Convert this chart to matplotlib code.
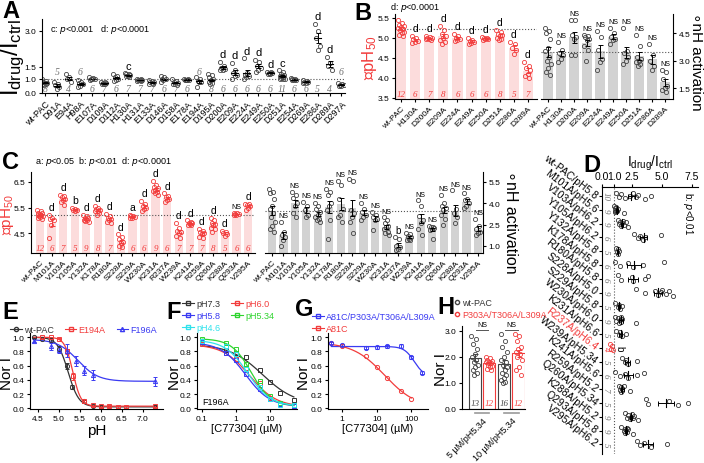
import numpy as np
import matplotlib
matplotlib.use("Agg")
import matplotlib.pyplot as plt
from matplotlib.lines import Line2D

plt.rcParams['font.family'] = ['Liberation Sans', 'DejaVu Sans']
plt.rcParams['mathtext.default'] = 'regular'
plt.rcParams['axes.linewidth'] = 0.8
plt.rcParams['xtick.major.width'] = 0.8
plt.rcParams['ytick.major.width'] = 0.8
plt.rcParams['xtick.major.size'] = 2.5
plt.rcParams['ytick.major.size'] = 2.5
plt.rcParams['xtick.major.pad'] = 1.5
plt.rcParams['ytick.major.pad'] = 1.5

RED = '#f23c3c'
PINK = '#fcdcdc'
GRAYBAR = '#d2d2d2'
BLUE = '#3a3af2'
GREEN = '#2ed42e'
CYAN = '#2fe2ec'
NGRAY = '#707070'
TICK = 6

# ---------------- data ----------------
# A: Idrug/Ictrl per mutant
A_names = ['wt-PAC', 'D91A', 'E94A', 'H98A', 'E107A', 'D109A', 'D112A', 'H130A', 'H131A',
           'E133A', 'D146A', 'D158A', 'E178A', 'E194A', 'D195A', 'D200A', 'E209A', 'E224A',
           'E249A', 'E250A', 'D251A', 'E254A', 'D269A', 'E286A', 'D289A', 'D297A']
A_vals = [
    [0.95, 0.85, 0.78, 0.72, 0.68, 0.65, 0.6, 0.55],
    [0.75, 0.6, 0.55, 0.4, 0.3],
    [1.2, 1.05, 0.95, 0.8],
    [0.9, 0.75, 0.7, 0.6, 0.5, 0.45],
    [1.05, 1.02, 1.0, 0.98, 0.95, 0.93],
    [0.8, 0.75, 0.72, 0.68, 0.65, 0.62, 0.6],
    [1.2, 1.1, 1.05, 1.0, 0.9, 0.85],
    [1.22, 1.2, 1.18, 1.15, 1.12, 1.1, 1.05],
    [1.0, 0.95, 0.92, 0.9, 0.88, 0.85, 0.83],
    [0.9, 0.85, 0.8, 0.75, 0.7, 0.65, 0.6],
    [1.1, 1.05, 1.0, 0.95, 0.88, 0.75],
    [0.95, 0.85, 0.78, 0.72, 0.65, 0.6, 0.55],
    [0.98, 0.96, 0.94, 0.92, 0.9, 0.88],
    [1.05, 0.95, 0.85, 0.8, 0.75, 0.45],
    [1.2, 1.15, 1.05, 0.95, 0.88, 0.8, 0.72, 0.65],
    [1.7, 1.55, 1.45, 1.42, 1.38, 1.35],
    [1.65, 1.35, 1.25, 1.15, 1.1, 1.0],
    [1.85, 1.25, 1.15, 1.1, 1.05, 1.0],
    [1.8, 1.7, 1.55, 1.45, 1.35, 1.3],
    [1.3, 1.28, 1.25, 1.23, 1.2, 1.2],
    [1.35, 1.28, 1.2, 1.15, 1.12, 1.1, 1.05, 1.02, 1.0, 0.98, 0.95],
    [1.02, 0.98, 0.95, 0.92, 0.9, 0.88],
    [0.88, 0.85, 0.8, 0.75, 0.72, 0.7],
    [3.3, 3.0, 2.7, 2.35, 2.2],
    [1.9, 1.65, 1.55, 1.35],
    [0.68, 0.62, 0.58, 0.55, 0.52, 0.5],
]
A_sig = ['', '', '', '', '', '', '', 'c', '', '', '', '', '', '', '', 'd', 'd', 'd',
         'd', 'd', 'c', '', '', 'd', 'd', '']
A_n_top = ['D91A', 'H98A', 'E194A', 'D297A']

# B: pH50 and nH of activation
B_names = ['wt-PAC', 'H130A', 'D200A', 'E209A', 'E224A', 'E249A', 'E250A', 'D251A', 'E286A', 'D289A']
B_ph50 = [
    [5.45, 5.38, 5.32, 5.3, 5.27, 5.25, 5.22, 5.2, 5.15, 5.12, 5.08, 5.05],
    [5.05, 5.0, 4.97, 4.93, 4.9, 4.88],
    [5.05, 5.02, 5.0, 5.0, 4.98, 4.97, 4.95],
    [5.3, 5.2, 5.1, 5.05, 5.0, 4.95, 4.9, 4.85],
    [5.1, 5.05, 5.0, 4.98, 4.95, 4.92],
    [5.0, 4.95, 4.92, 4.9, 4.88, 4.85],
    [5.03, 5.0, 5.0, 4.98, 4.97, 4.95],
    [5.2, 5.15, 5.1, 5.08, 5.05, 5.0, 4.98, 4.95],
    [4.9, 4.85, 4.75, 4.7, 4.6],
    [4.4, 4.3, 4.25, 4.2, 4.1, 4.05, 4.0],
]
B_nh = [
    [4.8, 4.6, 4.5, 4.2, 3.7, 3.5, 3.2, 3.0, 2.8, 2.6, 2.4, 2.2],
    [4.0, 3.6, 3.4, 3.3, 3.1, 2.9],
    [5.2, 5.2, 4.4, 4.3, 4.2, 3.3, 3.3],
    [4.4, 4.35, 4.3, 4.2, 4.1, 3.8, 3.6, 3.0],
    [4.6, 4.3, 3.6, 3.1, 2.9, 2.5],
    [4.8, 4.5, 4.3, 4.2, 4.1, 3.9],
    [4.8, 3.5, 3.4, 3.2, 3.0, 2.8],
    [4.4, 3.8, 3.2, 3.1, 3.0, 2.9, 2.8, 2.7],
    [3.9, 3.3, 3.0, 2.7, 2.5],
    [2.5, 2.4, 2.0, 1.6, 1.5, 1.4, 1.3],
]
B_ph_sig = [''] + ['d'] * 9
B_nh_sig = [''] + ['NS'] * 9

# C: pH50 and nH of activation
C_names = ['wt-PAC', 'M101A', 'V103A', 'Y105A', 'Y132A', 'K178A', 'R180A', 'S228A', 'S229A',
           'W230A', 'K231A', 'R237A', 'W239A', 'K241A', 'R259A', 'Q260A', 'K288A', 'Q293A', 'V295A']
C_ph50 = [
    [5.4, 5.35, 5.3, 5.28, 5.25, 5.22, 5.2, 5.18, 5.15, 5.12, 5.1, 5.05],
    [5.2, 5.1, 5.05, 5.0, 4.8, 4.3],
    [6.0, 5.95, 5.9, 5.85, 5.8, 5.7, 5.6],
    [5.5, 5.45, 5.42, 5.4, 5.35],
    [5.2, 5.15, 5.1, 5.08, 5.05, 5.02, 5.0, 4.97, 4.95],
    [5.55, 5.5, 5.45, 5.4, 5.38, 5.35, 5.3, 5.2],
    [5.25, 5.15, 5.1, 5.05, 5.0, 4.95, 4.9],
    [4.45, 4.35, 4.25, 4.15, 4.1, 4.0, 3.95],
    [5.2, 5.18, 5.15, 5.12, 5.1, 5.08],
    [5.75, 5.65, 5.55, 5.5, 5.45, 5.35],
    [6.55, 6.4, 6.3, 6.25, 6.2, 6.15, 6.1, 6.05, 6.0],
    [6.05, 5.95, 5.9, 5.85, 5.8, 5.7],
    [4.9, 4.7, 4.6, 4.55, 4.5, 4.4, 4.3],
    [5.0, 4.95, 4.9, 4.88, 4.85, 4.82, 4.8],
    [4.65, 4.6, 4.55, 4.5, 4.45, 4.35, 4.3],
    [5.1, 5.0, 4.9, 4.85, 4.8, 4.7, 4.65, 4.55],
    [4.6, 4.55, 4.5, 4.45, 4.4],
    [5.3, 5.28, 5.25, 5.25, 5.22, 5.2],
    [5.65, 5.62, 5.58, 5.55, 5.5, 5.4],
]
C_nh = [
    [5.0, 4.8, 4.7, 4.3, 3.8, 3.6, 3.3, 3.0, 2.7, 2.4, 2.2, 2.0],
    [2.7, 2.0, 1.8, 1.6, 1.4, 1.0],
    [4.8, 4.6, 4.4, 4.0, 3.8, 3.3, 3.0],
    [4.1, 3.8, 3.5, 3.2, 3.0],
    [4.0, 3.8, 3.6, 3.4, 3.2, 3.0, 2.9, 2.8, 2.7],
    [5.0, 4.8, 4.6, 4.0, 3.8, 3.5, 2.8, 1.5],
    [5.6, 5.3, 4.3, 3.6, 3.2, 3.0, 2.7],
    [5.7, 5.6, 3.5, 3.3, 3.0, 2.7, 1.9],
    [4.0, 3.6, 3.4, 3.2, 3.0, 2.8],
    [3.4, 3.2, 3.0, 2.9, 2.8, 2.1],
    [3.0, 2.8, 2.6, 2.4, 2.3, 2.2, 2.0, 1.9, 1.8],
    [1.6, 1.5, 1.0, 0.9, 0.8, 0.7],
    [1.9, 1.85, 1.7, 1.6, 1.5, 1.45, 1.4],
    [4.2, 3.8, 3.1, 2.8, 2.6, 2.2, 1.8],
    [2.4, 2.35, 2.3, 2.25, 2.2, 2.1, 1.5],
    [4.6, 4.0, 3.8, 3.7, 3.5, 3.2, 2.9, 2.5],
    [4.9, 3.6, 3.3, 3.0, 2.6],
    [4.7, 4.3, 4.2, 4.0, 3.8, 3.7],
    [2.9, 2.4, 2.2, 2.0, 1.9, 1.8],
]
C_ph_sig = ['', 'd', 'd', 'b', 'd', 'd', 'd', 'd', 'a', 'd', 'd', 'd', 'd', 'd', 'd', 'd', 'd', 'NS', 'd']
C_nh_sig = [''] + ['NS'] * 10 + ['b'] + ['NS'] * 7

# D: Idrug/Ictrl at each mutant's pH
D_names = ['wt-PAC/pH5.8', 'M101A/pH5.6', 'V103A/pH6.2', 'Y105A/pH6.2', 'Y132A/pH5.8',
           'K178A/pH5.8', 'R180A/pH5.8', 'S228A/pH5.0', 'S229A/pH5.8', 'W230A/pH6.0',
           'K231A/pH6.6', 'R237A/pH6.4', 'W239A/pH5.34', 'K241A/pH5.6', 'R259A/pH5.2',
           'Q260A/pH5.34', 'K288A/pH5.2', 'Q293A/pH5.8', 'V295A/pH6.2']
D_vals = [
    [1.2, 1.4, 1.6, 1.9, 2.3, 2.6, 2.8, 3.0, 3.6, 4.1],
    [1.0, 1.05, 1.1, 1.1, 1.15, 1.2, 1.25, 1.3, 1.8],
    [1.3, 1.4, 1.5, 1.6, 1.7, 1.75, 1.8, 2.0, 2.2],
    [2.7, 3.0, 3.2, 3.4, 3.6, 4.9],
    [1.2, 1.25, 1.3, 1.35, 1.4],
    [1.1, 1.5, 2.2, 2.6, 3.4, 5.2],
    [1.3, 1.6, 2.5, 2.6, 3.6, 3.8],
    [2.8, 3.6, 4.4, 4.7, 4.9, 5.0, 5.3, 5.6, 5.9],
    [1.1, 1.3, 1.4, 1.5, 1.7],
    [1.1, 1.2, 1.3, 1.4, 1.5, 1.55, 1.6, 1.7, 2.8],
    [1.2, 1.4, 1.5, 1.7, 2.0],
    [0.65, 0.75, 0.85, 0.9],
    [1.7, 1.9, 2.0, 2.2, 2.9],
    [1.1, 1.5, 1.9, 2.2, 2.9, 3.5],
    [1.4, 1.5, 1.55, 1.6, 1.7, 1.8, 2.3],
    [3.7, 3.8, 5.6, 6.3, 7.2],
    [1.9, 2.1, 2.2, 2.3, 2.4, 2.5, 2.6, 2.7, 3.0],
    [1.6, 1.8, 1.9, 1.95, 2.0, 2.05, 2.1, 2.2, 2.6],
    [2.9, 3.2, 3.5, 4.1, 5.4],
]
D_red = 'R237A/pH6.4'

# E: pH dependence
E_ph_wt = [4.4, 4.6, 4.8, 5.0, 5.2, 5.3, 5.6, 5.8, 6.0, 7.3]
E_wt = [1.0, 0.98, 0.96, 0.84, 0.6, 0.3, 0.1, 0.03, 0.02, 0.02]
E_wt_err = [0.01, 0.01, 0.02, 0.03, 0.04, 0.03, 0.02, 0.01, 0.01, 0.01]
E_ph_194 = [4.6, 4.8, 5.0, 5.2, 5.34, 5.6, 5.8, 6.0, 6.2, 6.4, 6.6, 7.3]
E_194 = [1.0, 1.0, 0.98, 0.8, 0.45, 0.1, 0.04, 0.03, 0.03, 0.02, 0.02, 0.03]
E_194_err = [0.01, 0.01, 0.01, 0.04, 0.05, 0.02, 0.01, 0.01, 0.01, 0.01, 0.01, 0.01]
E_ph_196 = [4.4, 4.8, 5.0, 5.2, 5.4, 5.6, 5.8, 7.3]
E_196 = [0.95, 0.87, 0.82, 0.81, 0.67, 0.53, 0.47, 0.38]
E_196_err = [0.02, 0.05, 0.04, 0.09, 0.07, 0.06, 0.07, 0.06]
# fit: top, bottom, pH50, nH
E_fit = {'wt-PAC': (1.0, 0.02, 5.22, 3.4), 'E194A': (1.0, 0.03, 5.33, 4.5),
         'F196A': (0.97, 0.38, 5.45, 1.8)}

# F: C77304 on F196A at different pH
F_conc = [0.1, 0.5, 1, 2, 5, 10, 20, 50]
F_labels = ['pH7.3', 'pH6.0', 'pH5.8', 'pH5.34', 'pH4.6']
F_vals = [
    [0.93, 0.82, 0.78, 0.72, 0.54, 0.37, 0.21, 0.12],
    [0.90, 0.78, 0.70, 0.57, 0.35, 0.15, 0.06, 0.03],
    [0.93, 0.78, 0.68, 0.48, 0.27, 0.13, 0.06, 0.03],
    [0.97, 0.92, 0.84, 0.62, 0.38, 0.17, 0.08, 0.04],
    [0.95, 0.88, 0.76, 0.55, 0.30, 0.13, 0.05, 0.04],
]
# fit: top, bottom, IC50, n
F_fit = [(0.90, 0.05, 6.0, 0.9), (0.90, 0.02, 2.5, 1.1), (0.93, 0.02, 1.9, 1.2),
         (0.98, 0.03, 2.8, 1.5), (0.96, 0.03, 2.2, 1.3)]

# G: A81C mutants
G_conc_blue = [0.5, 1, 5, 10, 20, 50, 100, 200]
G_blue = [0.92, 0.89, 0.85, 0.86, 0.87, 0.88, 0.72, 0.50]
G_blue_err = [0.01, 0.01, 0.02, 0.02, 0.02, 0.03, 0.02, 0.02]
G_conc_red = [0.5, 1, 5, 10, 20, 50, 100]
G_red = [0.92, 0.88, 0.73, 0.58, 0.42, 0.24, 0.13]
G_fit = {'blue': (0.87, 0.45, 120, 3.0), 'red': (0.93, 0.0, 17, 0.95)}

# H
H_groups = ['5 µM/pH5.34', '10 µM/pH5.34']
H_wt = [[2.8, 2.7, 2.5, 2.3, 2.1, 2.0, 1.9, 1.8, 1.7, 1.6, 1.5, 1.4, 1.3],
        [2.9, 2.6, 2.4, 2.2, 2.0, 1.9, 1.8, 1.7, 1.6, 1.5, 1.4, 1.3, 1.2, 1.1, 1.05, 1.0]]
H_mut = [[2.0, 1.95, 1.9, 1.85, 1.8, 1.8, 1.75, 1.7, 1.65, 1.6, 1.55, 1.5],
         [2.9, 2.8, 2.6, 2.4, 2.3, 2.2, 2.1, 2.0, 1.9, 1.6, 1.5, 1.3]]

# ---------------- helpers ----------------
fig = plt.figure(figsize=(7.04, 4.64), dpi=100)


def px_ax(l, t, r, b):
    return fig.add_axes([l / 704, 1 - b / 464, (r - l) / 704, (b - t) / 464])


def ftext(x, y, s, **kw):
    fig.text(x / 704, 1 - y / 464, s, **kw)


def figpt(x, y):
    return (x / 704, 1 - y / 464)


def jitter(n, w):
    return ((np.arange(n) * 0.618034) % 1 - 0.5) * w


def spines(ax, keep):
    for k in ['left', 'right', 'top', 'bottom']:
        ax.spines[k].set_visible(k in keep)


def mean_sem(pts):
    pts = np.asarray(pts, float)
    return pts.mean(), pts.std(ddof=1) / np.sqrt(len(pts))


def hill_ph(ph, top, bot, p50, n):
    return bot + (top - bot) / (1 + 10 ** (n * (ph - p50)))


def hill_conc(c, top, bot, ic50, n):
    return bot + (top - bot) / (1 + (c / ic50) ** n)


def bar_dots(ax, vals, bar_c, dot_c, err_c, sig, sig_fs, n_c=None, n_y=None):
    for i, pts in enumerate(vals):
        m, s = mean_sem(pts)
        ax.bar(i, m, width=0.72, color=bar_c, zorder=1)
        ax.plot(i + jitter(len(pts), 0.5), pts, 'o', mfc='none', mec=dot_c, ms=3.0,
                mew=0.6, zorder=3)
        ax.errorbar(i, m, yerr=s, color=err_c, lw=0.7, capsize=1.8, capthick=0.7, zorder=4)
        if sig[i]:
            ax.annotate(sig[i], (i, max(pts)), xytext=(0, 2), textcoords='offset points',
                        ha='center', va='bottom', fontsize=5 if sig[i] == 'NS' else sig_fs)
        if n_c:
            ax.text(i, n_y, str(len(pts)), ha='center', va='bottom', fontsize=6.5,
                    color=n_c, family='Liberation Serif', style='italic')
    ax.axhline(mean_sem(vals[0])[0], ls=':', color='#555555', lw=0.8, zorder=2)


def cat_ticks(ax, names, fs):
    ax.set_xticks(range(len(names)))
    ax.set_xticklabels(names, rotation=45, ha='right', rotation_mode='anchor', fontsize=fs)


def num_ticks(ax, axis, vals, fmt):
    if axis == 'y':
        ax.set_yticks(vals)
        ax.set_yticklabels([fmt.format(v) for v in vals], fontsize=TICK)
    else:
        ax.set_xticks(vals)
        ax.set_xticklabels([fmt.format(v) for v in vals], fontsize=TICK)


def small_legend(handles, labels, anchor, **kw):
    opts = dict(loc='upper left', frameon=False, fontsize=6.5, labelcolor='linecolor',
                handlelength=1.3, handletextpad=0.25, borderaxespad=0, borderpad=0,
                labelspacing=0.25, columnspacing=1.2)
    opts.update(kw)
    fig.legend(handles, labels, bbox_to_anchor=figpt(*anchor), **opts)


# ---------------- panel A ----------------
def seg_fwd(y):
    y = np.asarray(y, float)
    return np.where(y < 1, y * 0.6, y - 0.4)


def seg_inv(v):
    v = np.asarray(v, float)
    return np.where(v < 0.6, v / 0.6, v + 0.4)


axA = px_ax(42, 20, 345, 94)
spines(axA, ['left', 'bottom'])
axA.set_yscale('function', functions=(seg_fwd, seg_inv))
for i, pts in enumerate(A_vals):
    m, s = mean_sem(pts)
    axA.plot(i + jitter(len(pts), 0.5), pts, 'o', mfc='none', mec='#444444', ms=3.0, mew=0.6)
    axA.errorbar(i, m, yerr=s, color='k', lw=0.7, capsize=1.8, capthick=0.7)
    axA.plot([i - 0.28, i + 0.28], [m, m], color='k', lw=0.8)
    if A_sig[i]:
        axA.annotate(A_sig[i], (i, max(pts)), xytext=(0, 2), textcoords='offset points',
                     ha='center', va='bottom', fontsize=8)
    ny = 1.3 if A_names[i] in A_n_top else 0.3
    axA.text(i, ny, str(len(pts)), ha='center', va='center', fontsize=7, color=NGRAY,
             family='Liberation Serif', style='italic')
axA.axhline(1.0, ls=':', color='#555555', lw=0.8)
axA.set_ylim(0, 3.5)
axA.set_xlim(-0.25, 25.3)
num_ticks(axA, 'y', [0.0, 1.0, 1.5, 3.0], '{:.1f}')
cat_ticks(axA, A_names, 6.5)
ftext(50, 29, 'c: $\\it{p}$<0.001   d: $\\it{p}$<0.0001', fontsize=6.5, va='center')
ftext(13, 58, 'I$_{drug}$/I$_{ctrl}$', rotation=90, fontsize=17, ha='center', va='center')

# ---------------- panel B ----------------
axBl = px_ax(395, 15, 537, 100)
spines(axBl, ['left', 'bottom'])
bar_dots(axBl, B_ph50, PINK, RED, RED, B_ph_sig, 7.5, n_c=RED, n_y=3.5)
axBl.set_ylim(3.475, 5.6)
axBl.set_xlim(-0.43, 9.64)
num_ticks(axBl, 'y', [3.5, 4.0, 4.5, 5.0, 5.5], '{:.1f}')
cat_ticks(axBl, B_names, 6)

axBr = px_ax(541, 15, 673, 100)
spines(axBr, ['right', 'bottom'])
bar_dots(axBr, B_nh, GRAYBAR, '#444444', 'k', B_nh_sig, 5)
axBr.set_ylim(0.9, 5.54)
axBr.set_xlim(-0.54, 9.62)
axBr.yaxis.tick_right()
num_ticks(axBr, 'y', [1.5, 3.0, 4.5], '{:.1f}')
cat_ticks(axBr, B_names, 6)
ftext(390, 8, 'd: $\\it{p}$<0.0001', fontsize=6.5, va='center')
ftext(370, 58, '\u2218pH$_{50}$', rotation=90, fontsize=12, color=RED, ha='center', va='center')
ftext(696, 62, '\u2218nH activation', rotation=270, fontsize=11, ha='center', va='center')

# ---------------- panel C ----------------
axCl = px_ax(31, 173, 255, 254)
spines(axCl, ['left', 'bottom'])
bar_dots(axCl, C_ph50, PINK, RED, RED, C_ph_sig, 7.5, n_c=RED, n_y=3.76)
axCl.set_ylim(3.72, 6.89)
axCl.set_xlim(-0.78, 18.6)
num_ticks(axCl, 'y', [4.5, 5.5, 6.5], '{:.1f}')
cat_ticks(axCl, C_names, 6)

axCr = px_ax(265, 173, 483, 254)
spines(axCr, ['right', 'bottom'])
bar_dots(axCr, C_nh, GRAYBAR, '#444444', 'k', C_nh_sig, 7)
axCr.set_ylim(0.5, 6.2)
axCr.set_xlim(-0.61, 18.44)
axCr.yaxis.tick_right()
num_ticks(axCr, 'y', [1.0, 2.5, 4.0, 5.5], '{:.1f}')
cat_ticks(axCr, C_names, 6)
ftext(35, 162, 'a: $\\it{p}$<0.05  b: $\\it{p}$<0.01  d: $\\it{p}$<0.0001', fontsize=6.5,
      va='center')
ftext(8, 214, '\u2218pH$_{50}$', rotation=90, fontsize=11, color=RED, ha='center', va='center')
ftext(510, 222, '\u2218nH activation', rotation=270, fontsize=11.5, ha='center', va='center')

# ---------------- panel D ----------------
axD = px_ax(602, 188, 698, 455)
spines(axD, ['left', 'top'])
for i, pts in enumerate(D_vals):
    col = RED if D_names[i] == D_red else '#333333'
    m, s = mean_sem(pts)
    axD.plot(pts, i + jitter(len(pts), 0.5), 'o', mfc='none', mec=col, ms=3.0, mew=0.6)
    if D_names[i] != D_red:
        axD.errorbar(m, i, xerr=s, color='k', lw=0.7, capsize=1.8, capthick=0.7)
        axD.plot([m, m], [i - 0.3, i + 0.3], color='k', lw=0.8)
    else:
        axD.text(1.45, i, 'b', rotation=-90, ha='center', va='center', fontsize=7)
    axD.text(0.32, i, str(len(pts)), rotation=-90, ha='center', va='center', fontsize=6.5,
             color=RED if D_names[i] == D_red else NGRAY, family='Liberation Serif',
             style='italic')
axD.axvline(1.0, ls=':', color='#555555', lw=0.8)
axD.set_xlim(0, 8.0)
axD.set_ylim(18.7, -0.65)
axD.xaxis.tick_top()
axD.set_xticks([0.0, 1.0, 2.5, 5.0, 7.5])
axD.set_xticklabels(['0.0', '1.0', '2.5', '5.0', '7.5'], fontsize=7.5)
axD.set_yticks(range(len(D_names)))
axD.set_yticklabels(D_names, rotation=-38, ha='right', va='center', rotation_mode='anchor',
                    fontsize=7.5)
for lab in axD.get_yticklabels():
    if lab.get_text() == D_red:
        lab.set_color(RED)
axD.set_xlabel('I$_{drug}$/I$_{ctrl}$', fontsize=10, labelpad=4)
axD.xaxis.set_label_position('top')
ftext(688, 214, 'b: $\\it{p}$<0.01', rotation=270, fontsize=7, ha='center', va='center')

# ---------------- panel E ----------------
axE = px_ax(30, 334, 163, 410)
spines(axE, ['left', 'bottom'])
ph_line = np.linspace(4.4, 7.3, 300)
for lab, xs, ys, es, col, mk in [('wt-PAC', E_ph_wt, E_wt, E_wt_err, '#333333', 'o'),
                                 ('E194A', E_ph_194, E_194, E_194_err, RED, 's'),
                                 ('F196A', E_ph_196, E_196, E_196_err, BLUE, '^')]:
    axE.plot(ph_line, hill_ph(ph_line, *E_fit[lab]), color=col, lw=0.9)
    axE.errorbar(xs, ys, yerr=es, fmt=mk, mfc='none', mec=col, ecolor=col, ms=3, mew=0.7,
                 lw=0.7, capsize=1.5)
axE.set_xlim(4.31, 7.48)
axE.set_ylim(-0.01, 1.06)
num_ticks(axE, 'x', [4.5, 5.0, 5.5, 6.0, 6.5, 7.0], '{:.1f}')
num_ticks(axE, 'y', [0.0, 0.2, 0.4, 0.6, 0.8, 1.0], '{:.1f}')
axE.set_xlabel('pH', fontsize=11, labelpad=1)
ftext(7, 374, 'Nor I', rotation=90, fontsize=11, ha='center', va='center')
hE = [Line2D([], [], color=c, marker=m, mfc='none', ms=3, lw=0.8)
      for c, m in [('#333333', 'o'), (RED, 's'), (BLUE, '^')]]
small_legend(hE, ['wt-PAC', 'E194A', 'F196A'], (10, 326), ncol=3)

# ---------------- panel F ----------------
F_cols = ['#333333', RED, BLUE, GREEN, CYAN]
F_marks = ['s', 's', 's', 's', 's']
axF = px_ax(197, 334, 297, 410)
spines(axF, ['left', 'bottom'])
axF.set_xscale('log')
c_line = np.logspace(-1, np.log10(50), 300)
for vals, fit, col, mk in zip(F_vals, F_fit, F_cols, F_marks):
    axF.plot(c_line, hill_conc(c_line, *fit), color=col, lw=0.9)
    axF.plot(F_conc, vals, mk, mfc='none', mec=col, ms=3, mew=0.7)
axF.set_xlim(0.0713, 62)
axF.set_ylim(-0.01, 1.06)
axF.minorticks_off()
num_ticks(axF, 'x', [0.1, 1, 10], '{:g}')
num_ticks(axF, 'y', [0.0, 0.2, 0.4, 0.6, 0.8, 1.0], '{:.1f}')
axF.set_xlabel('[C77304] (µM)', fontsize=8, labelpad=1)
ftext(175, 374, 'Nor I', rotation=90, fontsize=11, ha='center', va='center')
axF.text(0.05, 0.06, 'F196A', transform=axF.transAxes, fontsize=6.5)
hF = [Line2D([], [], color=c, marker=m, mfc='none', ms=3, lw=0.8) for c, m in zip(F_cols, F_marks)]
order = [0, 2, 4, 1, 3]
small_legend([hF[k] for k in order], [F_labels[k] for k in order], (182, 300), ncol=2,
             labelspacing=0.35)

# ---------------- panel G ----------------
axG = px_ax(328, 334, 428, 410)
spines(axG, ['left', 'bottom'])
axG.set_xscale('log')
cb = np.logspace(np.log10(0.5), np.log10(200), 300)
cr = np.logspace(np.log10(0.5), np.log10(100), 300)
axG.plot(cb, hill_conc(cb, *G_fit['blue']), color=BLUE, lw=0.9)
axG.plot(cr, hill_conc(cr, *G_fit['red']), color=RED, lw=0.9)
axG.errorbar(G_conc_blue, G_blue, yerr=G_blue_err, fmt='o', mfc='none', mec=BLUE, ecolor=BLUE,
             ms=3, mew=0.7, lw=0.7, capsize=1.5)
axG.plot(G_conc_red, G_red, 'o', mfc='none', mec=RED, ms=3, mew=0.7)
axG.set_xlim(0.4, 300)
axG.set_ylim(-0.01, 1.06)
axG.minorticks_off()
num_ticks(axG, 'x', [1, 10, 100], '{:g}')
num_ticks(axG, 'y', [0.0, 0.2, 0.4, 0.6, 0.8, 1.0], '{:.1f}')
axG.set_xlabel('[C77304] (µM)', fontsize=8, labelpad=1)
ftext(304, 374, 'Nor I', rotation=90, fontsize=11, ha='center', va='center')
hG = [Line2D([], [], color=c, marker='s', mfc='none', ms=3, lw=0.8) for c in [BLUE, RED]]
small_legend(hG, ['A81C/P303A/T306A/L309A', 'A81C'], (312, 313), labelspacing=0.3)

# ---------------- panel H ----------------
axH = px_ax(462, 327, 525, 410)
spines(axH, ['left', 'bottom'])
xpos = [0, 1, 2.05, 3.05]
sets = [(H_wt[0], '#444444'), (H_mut[0], RED), (H_wt[1], '#444444'), (H_mut[1], RED)]
for xp, (pts, col) in zip(xpos, sets):
    m, s = mean_sem(pts)
    axH.bar(xp, m, width=0.85, facecolor='white', edgecolor=col, lw=0.8)
    axH.plot(xp + jitter(len(pts), 0.5), pts, 'o', mfc='none', mec=col, ms=3, mew=0.6)
    axH.errorbar(xp, m, yerr=s, color=col, lw=0.7, capsize=1.8, capthick=0.7)
    axH.text(xp, 0.08, str(len(pts)), ha='center', va='bottom', fontsize=6.5, color=col,
             family='Liberation Serif', style='italic')
for c in [0.5, 2.55]:
    axH.plot([c - 0.45, c + 0.45], [3.05, 3.05], color='#555555', lw=0.7, clip_on=False)
    axH.text(c, 3.1, 'NS', ha='center', va='bottom', fontsize=5)
    axH.plot([c - 0.5, c + 0.5], [-0.17, -0.17], color='#999999', lw=1.2, clip_on=False)
axH.set_ylim(0, 3.19)
axH.set_xlim(-0.9, 3.5)
num_ticks(axH, 'y', [0.0, 1.0, 2.0, 3.0], '{:.1f}')
axH.set_xticks([0.5, 2.55])
axH.set_xticklabels(H_groups, rotation=45, ha='right', rotation_mode='anchor', fontsize=6.5)
axH.tick_params(axis='x', length=0, pad=5)
ftext(441, 370, 'Nor I', rotation=90, fontsize=11, ha='center', va='center')
hH = [Line2D([], [], color=c, marker='o', mfc='none', ms=3, lw=0) for c in ['#444444', RED]]
small_legend(hH, ['wt-PAC', 'P303A/T306A/L309A'], (453, 299), labelcolor=['#333333', RED],
             handlelength=0.8, labelspacing=0.3)

# ---------------- panel letters ----------------
for lab, x, y in [('A', 2, 12), ('B', 354, 13), ('C', 2, 163), ('D', 583, 166),
                  ('E', 2, 313), ('F', 166, 313), ('G', 295, 310), ('H', 437, 308)]:
    ftext(x, y, lab, fontsize=17, fontweight='bold', va='center', ha='left')

fig.savefig('out.png', dpi=100)
